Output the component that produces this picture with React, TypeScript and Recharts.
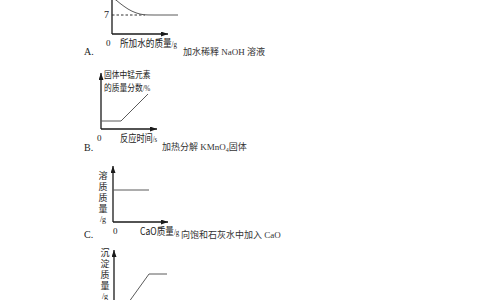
import { LineChart, Line, XAxis, YAxis, ReferenceLine } from 'recharts';
import type { ReactNode } from 'react';

// A: pH while water is added to NaOH solution
const waterMass = [0, 4, 8, 12, 16, 20, 24, 28, 32, 36, 42, 66];
const phValues = [13.4, 12.5, 11.3, 10.2, 9.2, 8.4, 7.8, 7.35, 7.1, 7.02, 7, 7];

// B: Mn mass fraction in the solid while KMnO4 is heated
const heatTime = [0, 20, 47];
const mnFraction = [8, 8, 35];

// C: solute mass in saturated limewater while CaO is added
const caoMass = [0, 36];
const soluteMass = [32, 32];

// D: precipitate mass
const reagentMass = [12, 35, 53];
const precipMass = [0, 32, 32];

const AXIS = '#1a1a1a';
const CURVE = '#5a5a5a';
const SANS = '"Noto Sans CJK SC", "Noto Sans", sans-serif';
const SERIF = '"Liberation Serif", "Noto Sans CJK SC", serif';

const toRows = (xs: number[], ys: number[]) => xs.map((x, i) => ({ x, y: ys[i] }));

type Seg = { from: [number, number]; to: [number, number]; arrow?: boolean; dashed?: boolean; color?: string };

function segShape(seg: Seg) {
  return (p: any) => (
    <line
      x1={p.x1}
      y1={p.y1}
      x2={p.x2}
      y2={p.y2}
      stroke={seg.color ?? AXIS}
      strokeWidth={seg.dashed ? 1 : 1.3}
      strokeDasharray={seg.dashed ? '2.5 2' : undefined}
      markerEnd={seg.arrow ? 'url(#axisArrow)' : undefined}
    />
  );
}

function Sketch({
  left,
  top,
  width,
  height,
  xMax,
  yMax,
  rows,
  curve,
  segs,
}: {
  left: number;
  top: number;
  width: number;
  height: number;
  xMax: number;
  yMax: number;
  rows: { x: number; y: number }[];
  curve?: 'monotone' | 'linear';
  segs: Seg[];
}) {
  return (
    <div style={{ position: 'absolute', left, top }}>
      <LineChart width={width} height={height} data={rows} margin={{ top: 0, right: 0, bottom: 0, left: 0 }}>
        <XAxis type='number' dataKey='x' domain={[0, xMax]} hide allowDataOverflow />
        <YAxis type='number' domain={[0, yMax]} hide allowDataOverflow />
        {segs.map((s, i) => (
          <ReferenceLine
            key={i}
            segment={[
              { x: s.from[0], y: s.from[1] },
              { x: s.to[0], y: s.to[1] },
            ]}
            ifOverflow='visible'
            shape={segShape(s)}
          />
        ))}
        <Line
          dataKey='y'
          type={curve ?? 'linear'}
          stroke={CURVE}
          strokeWidth={1}
          dot={false}
          isAnimationActive={false}
        />
      </LineChart>
    </div>
  );
}

function T({
  x,
  y,
  size = 10,
  sx = 1,
  font = SANS,
  color = '#222',
  children,
}: {
  x: number;
  y: number;
  size?: number;
  sx?: number;
  font?: string;
  color?: string;
  children: ReactNode;
}) {
  return (
    <div
      style={{
        position: 'absolute',
        left: x,
        top: y,
        fontSize: size,
        fontFamily: font,
        color,
        lineHeight: 1,
        whiteSpace: 'nowrap',
        transform: `translateY(-50%) scaleX(${sx})`,
        transformOrigin: 'left center',
      }}
    >
      {children}
    </div>
  );
}

// axis title written top-to-bottom, one character per step
function VLabel({ x, top, text, unit }: { x: number; top: number; text: string; unit: string }) {
  return (
    <div
      style={{
        position: 'absolute',
        left: x - 4.5,
        top,
        writingMode: 'vertical-rl',
        textOrientation: 'upright',
        fontFamily: SANS,
        fontSize: 9,
        lineHeight: 1,
        letterSpacing: 2,
        color: '#222',
        whiteSpace: 'nowrap',
      }}
    >
      {text}
      <span style={{ textCombineUpright: 'all', fontFamily: SERIF, fontSize: 8, letterSpacing: 0 } as any}>
        {unit}
      </span>
    </div>
  );
}

export default function App() {
  return (
    <div
      style={{
        position: 'absolute',
        left: 0,
        top: 0,
        width: 484,
        height: 300,
        overflow: 'hidden',
        background: '#fff',
      }}
    >
      <style>{'.recharts-surface{overflow:visible}'}</style>
      <svg width={0} height={0} style={{ position: 'absolute' }}>
        <defs>
          <marker
            id='axisArrow'
            viewBox='0 0 10 10'
            refX={10}
            refY={5}
            markerWidth={7}
            markerHeight={5}
            markerUnits='userSpaceOnUse'
            preserveAspectRatio='none'
            orient='auto'
          >
            <path d='M0,0 L10,5 L0,10 z' fill={AXIS} />
          </marker>
        </defs>
      </svg>

      {/* A */}
      <Sketch
        left={112}
        top={-4}
        width={70}
        height={38}
        xMax={70}
        yMax={14}
        rows={toRows(waterMass, phValues)}
        curve='monotone'
        segs={[
          { from: [0, 0], to: [56, 0], arrow: true },
          { from: [0, 0], to: [0, 14] },
          { from: [0, 7], to: [33, 7], dashed: true, color: '#333' },
        ]}
      />
      <T x={104} y={15} font={SERIF}>7</T>
      <T x={106} y={43} size={9} font={SERIF}>0</T>
      <T x={120} y={43} sx={0.86}>
        所加水的质量<span style={{ fontFamily: SERIF, fontSize: 8 }}>/g</span>
      </T>
      <T x={84} y={52} font={SERIF}>A.</T>
      <T x={183} y={52} size={9} font={SERIF} color='#333'>加水稀释 NaOH 溶液</T>

      {/* B */}
      <Sketch
        left={101}
        top={73}
        width={56}
        height={56}
        xMax={56}
        yMax={56}
        rows={toRows(heatTime, mnFraction)}
        segs={[
          { from: [0, 0], to: [56, 0], arrow: true },
          { from: [0, 0], to: [0, 56], arrow: true },
        ]}
      />
      <T x={104} y={74} size={9} sx={0.86}>固体中锰元素</T>
      <T x={104} y={87.5} size={9} sx={0.86}>
        的质量分数<span style={{ fontFamily: SERIF, fontSize: 8 }}>/%</span>
      </T>
      <T x={97} y={138} size={9} font={SERIF}>0</T>
      <T x={120} y={138} sx={0.82}>
        反应时间<span style={{ fontFamily: SERIF, fontSize: 8 }}>/s</span>
      </T>
      <T x={84} y={148} font={SERIF}>B.</T>
      <T x={162} y={148} size={9} font={SERIF} color='#333'>
        加热分解 KMnO<sub style={{ fontSize: 6 }}>4</sub>固体
      </T>

      {/* C */}
      <Sketch
        left={113}
        top={166}
        width={55}
        height={56}
        xMax={55}
        yMax={56}
        rows={toRows(caoMass, soluteMass)}
        segs={[
          { from: [0, 0], to: [55, 0], arrow: true },
          { from: [0, 0], to: [0, 56], arrow: true },
        ]}
      />
      <VLabel x={103} top={170.5} text='溶质质量' unit='/g' />
      <T x={113} y={231} size={9} font={SERIF}>0</T>
      <T x={140} y={231} sx={0.86}>
        CaO质量<span style={{ fontFamily: SERIF, fontSize: 8 }}>/g</span>
      </T>
      <T x={84} y={235} font={SERIF}>C.</T>
      <T x={181} y={235} size={9} font={SERIF} color='#333'>向饱和石灰水中加入 CaO</T>

      {/* D */}
      <Sketch
        left={114}
        top={250}
        width={55}
        height={56}
        xMax={55}
        yMax={56}
        rows={toRows(reagentMass, precipMass)}
        segs={[
          { from: [0, 0], to: [55, 0], arrow: true },
          { from: [0, 0], to: [0, 56], arrow: true },
        ]}
      />
      <VLabel x={105} top={247.5} text='沉淀质量' unit='/g' />
    </div>
  );
}
